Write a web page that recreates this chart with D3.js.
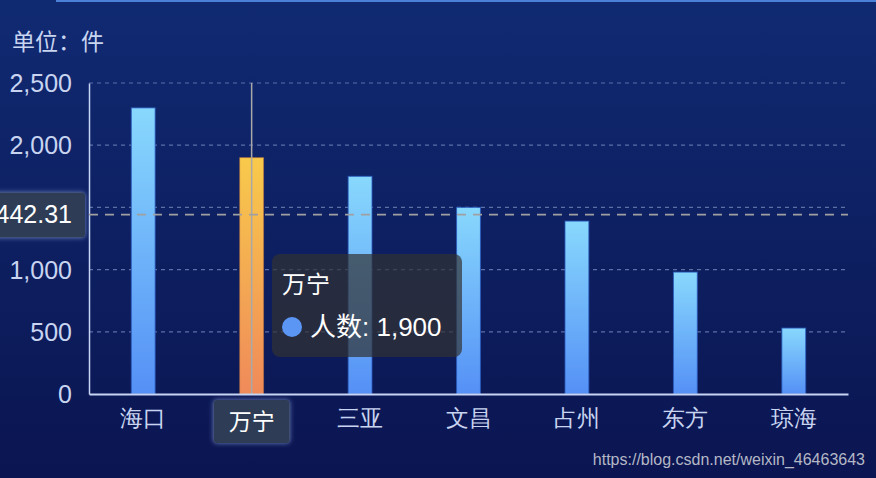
<!DOCTYPE html>
<html>
<head>
<meta charset="utf-8">
<script src="https://cdn.jsdelivr.net/npm/d3@7"></script>
<style>
  body { margin: 0; background: #0c1a5c; }
  svg { display: block; font-family: "Liberation Sans", "Noto Sans CJK SC", sans-serif; }
</style>
</head>
<body>
<div id="chart"></div>
<script>
// chart data
const categories = ["海口", "万宁", "三亚", "文昌", "占州", "东方", "琼海"];
const values = [2300, 1900, 1750, 1500, 1390, 980, 530];
const yTicks = [0, 500, 1000, 1500, 2000, 2500];
const seriesName = "人数";
const unitLabel = "单位：件";
const activeIndex = 1;
const pointerValue = 1442.31;
const watermark = "https://blog.csdn.net/weixin_46463643";

const W = 876, H = 478;
const margin = { top: 83, right: 28, bottom: 84, left: 89 };

const svg = d3.select("#chart")
  .append("svg")
  .attr("width", W)
  .attr("height", H);

const defs = svg.append("defs");

const bg = defs.append("linearGradient").attr("id", "bg")
  .attr("x1", 0).attr("y1", 0).attr("x2", 0).attr("y2", 1);
bg.append("stop").attr("offset", "0%").attr("stop-color", "#102a72");
bg.append("stop").attr("offset", "100%").attr("stop-color", "#0b1551");

function barGrad(id, top, bottom) {
  const g = defs.append("linearGradient").attr("id", id)
    .attr("x1", 0).attr("y1", 0).attr("x2", 0).attr("y2", 1);
  g.append("stop").attr("offset", "0%").attr("stop-color", top);
  g.append("stop").attr("offset", "100%").attr("stop-color", bottom);
}
barGrad("blueBar", "#88d8fd", "#5590f6");
barGrad("orangeBar", "#f8ca4b", "#f08a5a");

const glow = defs.append("filter").attr("id", "glow")
  .attr("x", "-30%").attr("y", "-30%").attr("width", "160%").attr("height", "160%");
glow.append("feDropShadow").attr("dx", 0).attr("dy", 0)
  .attr("stdDeviation", 2.5).attr("flood-color", "#8aa0d8").attr("flood-opacity", 0.8);

svg.append("rect").attr("width", W).attr("height", H).attr("fill", "url(#bg)");
svg.append("rect").attr("x", 56).attr("y", 0).attr("width", W - 56).attr("height", 2)
  .attr("fill", "#4b80d8");

const x = d3.scaleBand()
  .domain(categories)
  .range([margin.left, W - margin.right]);

const y = d3.scaleLinear()
  .domain([0, 2500])
  .range([H - margin.bottom, margin.top]);

// unit label
svg.append("text")
  .attr("x", 12).attr("y", 50)
  .attr("fill", "#c8d4f0")
  .style("font-size", "23px")
  .text(unitLabel);

// grid lines
svg.append("g")
  .selectAll("line")
  .data(yTicks.filter(d => d > 0))
  .join("line")
  .attr("x1", margin.left).attr("x2", W - margin.right)
  .attr("y1", d => y(d)).attr("y2", d => y(d))
  .attr("stroke", "#5b6fa8")
  .attr("stroke-width", 1.2)
  .attr("stroke-dasharray", "4 4");

// y axis (the tick under the pointer label is covered, so skip it)
const yAxis = d3.axisLeft(y).tickValues(yTicks).tickSize(0).tickPadding(17)
  .tickFormat(d3.format(","));
const gy = svg.append("g")
  .attr("transform", `translate(${margin.left},0)`)
  .call(yAxis);
gy.select(".domain").attr("stroke", "#c8d6f5").attr("stroke-width", 1.5);
gy.selectAll("text").attr("fill", "#c8d4f0").style("font-size", "25px")
  .attr("dy", "0.35em");
gy.selectAll(".tick").filter(d => Math.abs(y(d) - y(pointerValue)) < 24).remove();

// pointer line through active category
const cx = x(categories[activeIndex]) + x.bandwidth() / 2;
svg.append("line")
  .attr("x1", cx).attr("x2", cx)
  .attr("y1", margin.top).attr("y2", H - margin.bottom)
  .attr("stroke", "#a8a8a8").attr("stroke-width", 1.5);

// bars
const barW = x.bandwidth() * 0.22;
svg.append("g")
  .selectAll("rect")
  .data(values)
  .join("rect")
  .attr("x", (d, i) => x(categories[i]) + (x.bandwidth() - barW) / 2)
  .attr("y", d => y(d))
  .attr("width", barW)
  .attr("height", d => y(0) - y(d))
  .attr("fill", (d, i) => i === activeIndex ? "url(#orangeBar)" : "url(#blueBar)")
  .attr("stroke", (d, i) => i === activeIndex ? "rgba(200,120,60,0.5)" : "rgba(40,90,190,0.8)")
  .attr("stroke-width", 1);

// redraw pointer line above the active bar
svg.append("line")
  .attr("x1", cx).attr("x2", cx)
  .attr("y1", y(values[activeIndex])).attr("y2", H - margin.bottom)
  .attr("stroke", "#a8a8a8").attr("stroke-width", 1.5);

// x axis (active tick is replaced by the pointer label)
const xAxis = d3.axisBottom(x).tickSize(0).tickPadding(16);
const gx = svg.append("g")
  .attr("transform", `translate(0,${H - margin.bottom})`)
  .call(xAxis);
gx.select(".domain").attr("stroke", "#c8d6f5").attr("stroke-width", 2);
gx.selectAll("text").attr("fill", "#c8d4f0").style("font-size", "23px");
gx.selectAll(".tick").filter(d => d === categories[activeIndex]).remove();

// horizontal cross pointer
svg.append("line")
  .attr("x1", margin.left).attr("x2", W - margin.right)
  .attr("y1", y(pointerValue)).attr("y2", y(pointerValue))
  .attr("stroke", "#a0a0a0").attr("stroke-width", 1.6)
  .attr("stroke-dasharray", "9 7");

// y pointer label
svg.append("rect")
  .attr("x", -12).attr("y", y(pointerValue) - 22)
  .attr("width", 97).attr("height", 45).attr("rx", 3)
  .attr("fill", "#2e3d55").attr("filter", "url(#glow)");
svg.append("text")
  .attr("x", 72).attr("y", y(pointerValue))
  .attr("dy", "0.35em").attr("text-anchor", "end")
  .attr("fill", "#ffffff").style("font-size", "25px")
  .text(pointerValue);

// x pointer label
svg.append("rect")
  .attr("x", cx - 38).attr("y", H - margin.bottom + 6)
  .attr("width", 76).attr("height", 43).attr("rx", 3)
  .attr("fill", "#2e3d55").attr("filter", "url(#glow)");
svg.append("text")
  .attr("x", cx).attr("y", H - margin.bottom + 28)
  .attr("dy", "0.35em").attr("text-anchor", "middle")
  .attr("fill", "#ffffff").style("font-size", "23px")
  .text(categories[activeIndex]);

// tooltip
const tip = svg.append("g").attr("transform", "translate(272,254)");
tip.append("rect")
  .attr("width", 190).attr("height", 103).attr("rx", 8)
  .attr("fill", "rgba(50,50,50,0.7)");
tip.append("text")
  .attr("x", 10).attr("y", 39)
  .attr("fill", "#ffffff").style("font-size", "24px")
  .text(categories[activeIndex]);
tip.append("circle")
  .attr("cx", 20).attr("cy", 73).attr("r", 10)
  .attr("fill", "#5b96f5");
tip.append("text")
  .attr("x", 38).attr("y", 82)
  .attr("fill", "#ffffff").style("font-size", "26px")
  .text(`${seriesName}: ${d3.format(",")(values[activeIndex])}`);

// watermark
svg.append("text")
  .attr("x", 865).attr("y", 465)
  .attr("text-anchor", "end")
  .attr("fill", "#b4b8c6")
  .style("font-size", "16px")
  .text(watermark);
</script>
</body>
</html>
